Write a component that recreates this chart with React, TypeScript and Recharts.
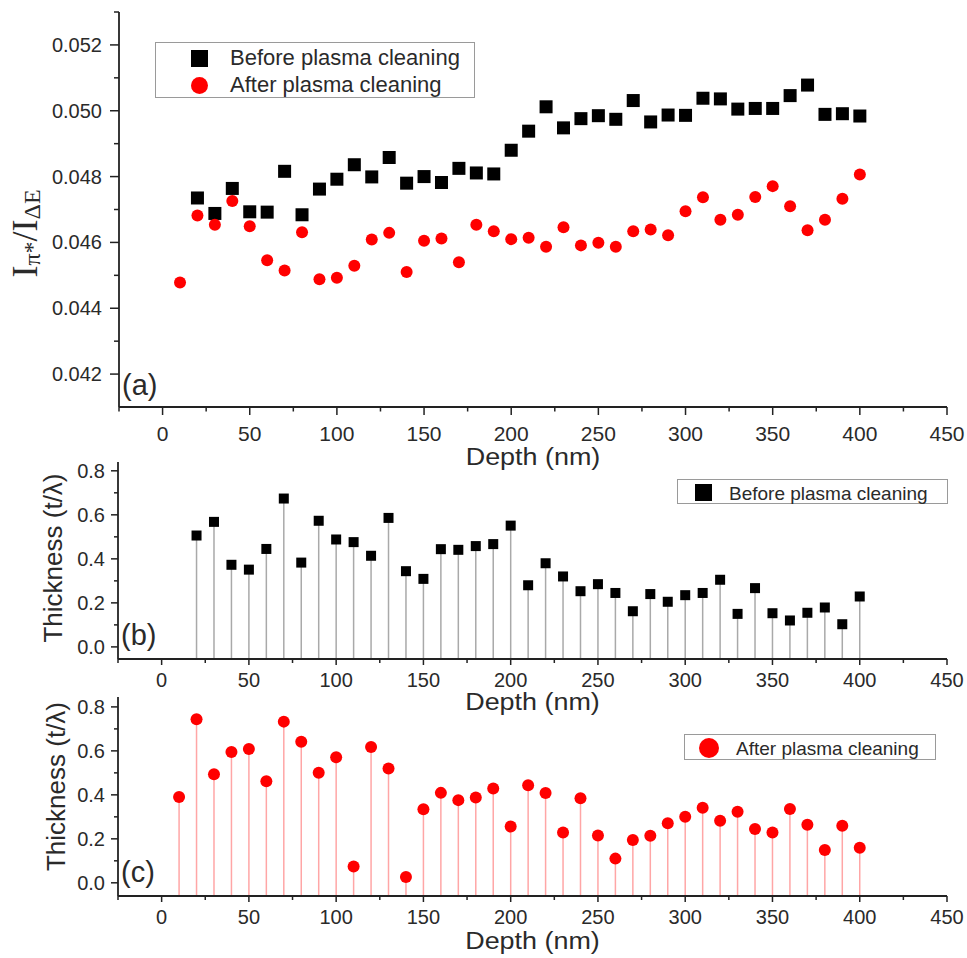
import React from 'react';
import { ScatterChart, Scatter, XAxis, YAxis, Legend, ErrorBar } from 'recharts';

// ---------- data ----------
const depthBefore = [20, 30, 40, 50, 60, 70, 80, 90, 100, 110, 120, 130, 140, 150, 160, 170, 180, 190, 200, 210, 220, 230, 240, 250, 260, 270, 280, 290, 300, 310, 320, 330, 340, 350, 360, 370, 380, 390, 400];
const depthAfter = [10, 20, 30, 40, 50, 60, 70, 80, 90, 100, 110, 120, 130, 140, 150, 160, 170, 180, 190, 200, 210, 220, 230, 240, 250, 260, 270, 280, 290, 300, 310, 320, 330, 340, 350, 360, 370, 380, 390, 400];

const ratioBefore = [0.04735, 0.04688, 0.04764, 0.04693, 0.04692, 0.04816, 0.04684, 0.04762, 0.04792, 0.04836, 0.04799, 0.04858, 0.0478, 0.048, 0.04782, 0.04825, 0.04811, 0.04808, 0.0488, 0.04938, 0.05012, 0.04948, 0.04976, 0.04985, 0.04974, 0.05031, 0.04966, 0.04987, 0.04986, 0.05038, 0.05036, 0.05005, 0.05007, 0.05007, 0.05046, 0.05078, 0.04989, 0.04991, 0.04984];
const ratioAfter = [0.04478, 0.04682, 0.04654, 0.04726, 0.04649, 0.04546, 0.04515, 0.04631, 0.04488, 0.04493, 0.04529, 0.04609, 0.04629, 0.0451, 0.04605, 0.04612, 0.0454, 0.04654, 0.04634, 0.0461, 0.04614, 0.04587, 0.04646, 0.04591, 0.04599, 0.04587, 0.04634, 0.04639, 0.04622, 0.04695, 0.04737, 0.04669, 0.04684, 0.04738, 0.04771, 0.0471, 0.04637, 0.04669, 0.04733, 0.04806];

const thicknessBefore = [0.506, 0.568, 0.373, 0.351, 0.445, 0.674, 0.383, 0.573, 0.488, 0.476, 0.414, 0.586, 0.344, 0.309, 0.444, 0.441, 0.458, 0.467, 0.551, 0.28, 0.38, 0.32, 0.253, 0.285, 0.245, 0.162, 0.24, 0.205, 0.235, 0.245, 0.305, 0.15, 0.267, 0.153, 0.12, 0.155, 0.179, 0.103, 0.229];
const thicknessAfter = [0.39, 0.744, 0.494, 0.595, 0.608, 0.462, 0.733, 0.642, 0.5, 0.571, 0.074, 0.618, 0.52, 0.026, 0.335, 0.409, 0.376, 0.388, 0.429, 0.256, 0.444, 0.408, 0.229, 0.385, 0.215, 0.11, 0.195, 0.214, 0.271, 0.3, 0.341, 0.282, 0.323, 0.245, 0.229, 0.336, 0.264, 0.149, 0.259, 0.159];

const depthTicks = [-25, 0, 25, 50, 75, 100, 125, 150, 175, 200, 225, 250, 275, 300, 325, 350, 375, 400, 425, 450];
const ratioTicks = [0.042, 0.043, 0.044, 0.045, 0.046, 0.047, 0.048, 0.049, 0.05, 0.051, 0.052, 0.053];
const thicknessTicks = [0, 0.1, 0.2, 0.3, 0.4, 0.5, 0.6, 0.7, 0.8];

const nameBefore = 'Before plasma cleaning';
const nameAfter = 'After plasma cleaning';
const depthTitle = 'Depth (nm)';
const thicknessTitle = 'Thickness (t/λ)';
const panelTags = ['(a)', '(b)', '(c)'];

// ---------- styling ----------
const SANS = '"Liberation Sans", Arial, sans-serif';
const SERIF = '"Liberation Serif", "Times New Roman", serif';
const AXIS = '#222';
const TEXT = '#2a2a2a';
const RED = '#ff0000';

const DEPTH_DOMAIN: [number, number] = [-25, 450];
const RATIO_DOMAIN: [number, number] = [0.041, 0.053];
const THICK_B_DOMAIN: [number, number] = [-0.055, 0.84];
const THICK_C_DOMAIN: [number, number] = [-0.06, 0.845];

const zip = (xs: number[], ys: number[], floor?: number) =>
  xs.map((x, i) => ({ x, y: ys[i], err: floor === undefined ? 0 : [ys[i] - floor, 0] }));

const makeXTick = (majorLen: number, minorLen: number, labelDy: number, fontSize: number) => (props: any) => {
  const { x, y, payload } = props;
  const v = payload.value;
  const isMajor = v % 50 === 0;
  return (
    <g>
      <line x1={x} x2={x} y1={y} y2={y + (isMajor ? majorLen : minorLen)} stroke={AXIS} strokeWidth={1.5} />
      {isMajor ? (
        <text x={x} y={y + labelDy} textAnchor="middle" dominantBaseline="central" fontFamily={SANS} fontSize={fontSize} fill={TEXT}>
          {v}
        </text>
      ) : null}
    </g>
  );
};

const makeYTick = (isMajor: (v: number) => boolean, fmt: (v: number) => string, majorLen: number, minorLen: number, gap: number, fontSize: number) => (props: any) => {
  const { x, y, payload } = props;
  const v = payload.value;
  const major = isMajor(v);
  return (
    <g>
      <line x1={x} x2={x - (major ? majorLen : minorLen)} y1={y} y2={y} stroke={AXIS} strokeWidth={1.5} />
      {major ? (
        <text x={x - gap} y={y} textAnchor="end" dominantBaseline="central" fontFamily={SANS} fontSize={fontSize} fill={TEXT}>
          {fmt(v)}
        </text>
      ) : null}
    </g>
  );
};

const squareShape = (size: number) => (p: any) => (
  <rect x={p.cx - size / 2} y={p.cy - size / 2} width={size} height={size} fill="#000" />
);
const circleShape = (d: number) => (p: any) => <circle cx={p.cx} cy={p.cy} r={d / 2} fill={RED} />;

const depthLabel = (dy: number) => (props: any) => {
  const vb = props.viewBox || {};
  const cx = vb.x + vb.width / 2;
  const cy = vb.y + dy;
  return (
    <text transform={`translate(${cx}, ${cy}) scale(1.17, 1)`} x={0} y={0} textAnchor="middle" dominantBaseline="central" fontFamily={SANS} fontSize={23} fill={TEXT}>
      {depthTitle}
    </text>
  );
};

const ratioYLabel = (props: any) => {
  const vb = props.viewBox || {};
  const bx = 37;
  const cy = vb.y + vb.height / 2 + 24;
  const right = vb.x + vb.width;
  return (
    <g>
      <text transform={`rotate(-90, ${bx}, ${cy})`} x={bx} y={cy} textAnchor="middle" fontFamily={SERIF} fontSize={36} fill={TEXT}>
        <tspan>I</tspan>
        <tspan fontSize={24} dy={3}>π*</tspan>
        <tspan dy={-3}>/I</tspan>
        <tspan fontSize={24} dy={3}>ΔE</tspan>
      </text>
      <text x={right + 3} y={vb.y + vb.height - 22} dominantBaseline="central" fontFamily={SANS} fontSize={29} fill={TEXT}>
        {panelTags[0]}
      </text>
    </g>
  );
};

const thicknessYLabel = (bx: number, centerShift: number, tag: string) => (props: any) => {
  const vb = props.viewBox || {};
  const cy = vb.y + vb.height / 2 + centerShift;
  const right = vb.x + vb.width;
  return (
    <g>
      <text transform={`rotate(-90, ${bx}, ${cy})`} x={bx} y={cy} textAnchor="middle" fontFamily={SANS} fontSize={26} fill={TEXT}>
        {thicknessTitle}
      </text>
      <text x={right + 3} y={vb.y + vb.height - 24} dominantBaseline="central" fontFamily={SANS} fontSize={29} fill={TEXT}>
        {tag}
      </text>
    </g>
  );
};

type Item = { name: string; kind: 'square' | 'circle'; size: number; cy: number };
const LegendBox = ({ w, h, items, markerX, textX, fontSize }: { w: number; h: number; items: Item[]; markerX: number; textX: number; fontSize: number }) => (
  <div style={{ boxSizing: 'border-box', width: w, height: h, border: '1.5px solid #9a9a9a', background: '#fff', position: 'relative', fontFamily: SANS }}>
    {items.map((it) => (
      <React.Fragment key={it.name}>
        <div
          style={{
            position: 'absolute',
            left: markerX - it.size / 2,
            top: it.cy - it.size / 2,
            width: it.size,
            height: it.size,
            background: it.kind === 'square' ? '#000' : RED,
            borderRadius: it.kind === 'circle' ? '50%' : 0,
          }}
        />
        <div style={{ position: 'absolute', left: textX, top: it.cy, transform: 'translateY(-50%)', fontSize, lineHeight: 1, whiteSpace: 'nowrap', color: TEXT }}>
          {it.name}
        </div>
      </React.Fragment>
    ))}
  </div>
);

const dataBeforeA = zip(depthBefore, ratioBefore);
const dataAfterA = zip(depthAfter, ratioAfter);
const dataB = zip(depthBefore, thicknessBefore, THICK_B_DOMAIN[0]);
const dataC = zip(depthAfter, thicknessAfter, THICK_C_DOMAIN[0]);

export default function App() {
  return (
    <div style={{ position: 'absolute', left: 0, top: 0, width: 967, height: 958, background: '#fff' }}>
      {/* Panel (a) */}
      <div style={{ position: 'absolute', left: 0, top: 0 }}>
        <ScatterChart width={967} height={480} margin={{ top: 12, right: 20, bottom: 13, left: 0 }}>
          <XAxis
            type="number"
            dataKey="x"
            domain={DEPTH_DOMAIN}
            allowDataOverflow
            ticks={depthTicks}
            interval={0}
            tickSize={0}
            tickMargin={0}
            height={60}
            axisLine={{ stroke: AXIS, strokeWidth: 1.8 }}
            tick={makeXTick(8, 4.5, 26, 21)}
            label={depthLabel(50)}
          />
          <YAxis
            type="number"
            dataKey="y"
            domain={RATIO_DOMAIN}
            allowDataOverflow
            ticks={ratioTicks}
            interval={0}
            tickSize={0}
            tickMargin={0}
            width={119}
            axisLine={{ stroke: AXIS, strokeWidth: 1.8 }}
            tick={makeYTick((v) => Math.round(v * 1000) % 2 === 0, (v) => v.toFixed(3), 9, 5, 17, 20)}
            label={ratioYLabel}
          />
          <Scatter name={nameBefore} data={dataBeforeA} isAnimationActive={false} shape={squareShape(13)} />
          <Scatter name={nameAfter} data={dataAfterA} isAnimationActive={false} shape={circleShape(12)} />
          <Legend
            layout="horizontal"
            verticalAlign="middle"
            align="center"
            wrapperStyle={{ left: 155, top: 42, width: 320, height: 56 }}
            content={() => (
              <LegendBox
                w={320}
                h={56}
                markerX={43}
                textX={74}
                fontSize={22}
                items={[
                  { name: nameBefore, kind: 'square', size: 17, cy: 15 },
                  { name: nameAfter, kind: 'circle', size: 17, cy: 42 },
                ]}
              />
            )}
          />
        </ScatterChart>
      </div>

      {/* Panel (b) */}
      <div style={{ position: 'absolute', left: 0, top: 440 }}>
        <ScatterChart width={967} height={280} margin={{ top: 22, right: 20, bottom: 6, left: 0 }}>
          <XAxis
            type="number"
            dataKey="x"
            domain={DEPTH_DOMAIN}
            allowDataOverflow
            ticks={depthTicks}
            interval={0}
            tickSize={0}
            tickMargin={0}
            height={55}
            axisLine={{ stroke: AXIS, strokeWidth: 1.8 }}
            tick={makeXTick(6, 4, 20.5, 20)}
            label={depthLabel(43)}
          />
          <YAxis
            type="number"
            dataKey="y"
            domain={THICK_B_DOMAIN}
            allowDataOverflow
            ticks={thicknessTicks}
            interval={0}
            tickSize={0}
            tickMargin={0}
            width={118}
            axisLine={{ stroke: AXIS, strokeWidth: 1.8 }}
            tick={makeYTick((v) => Math.round(v * 10) % 2 === 0, (v) => v.toFixed(1), 7, 4, 13, 20)}
            label={thicknessYLabel(62, -2.5, panelTags[1])}
          />
          <Scatter name={nameBefore} data={dataB} isAnimationActive={false} shape={squareShape(10)}>
            <ErrorBar dataKey="err" direction="y" width={0} stroke="#a9a9a9" strokeWidth={1.5} />
          </Scatter>
          <Legend
            layout="horizontal"
            verticalAlign="middle"
            align="center"
            wrapperStyle={{ left: 677, top: 39, width: 271, height: 25 }}
            content={() => (
              <LegendBox
                w={271}
                h={25}
                markerX={25}
                textX={51}
                fontSize={19}
                items={[{ name: nameBefore, kind: 'square', size: 17, cy: 12.5 }]}
              />
            )}
          />
        </ScatterChart>
      </div>

      {/* Panel (c) */}
      <div style={{ position: 'absolute', left: 0, top: 690 }}>
        <ScatterChart width={967} height={268} margin={{ top: 7, right: 20, bottom: 6, left: 0 }}>
          <XAxis
            type="number"
            dataKey="x"
            domain={DEPTH_DOMAIN}
            allowDataOverflow
            ticks={depthTicks}
            interval={0}
            tickSize={0}
            tickMargin={0}
            height={56}
            axisLine={{ stroke: AXIS, strokeWidth: 1.8 }}
            tick={makeXTick(6, 4, 21, 20)}
            label={depthLabel(45)}
          />
          <YAxis
            type="number"
            dataKey="y"
            domain={THICK_C_DOMAIN}
            allowDataOverflow
            ticks={thicknessTicks}
            interval={0}
            tickSize={0}
            tickMargin={0}
            width={118}
            axisLine={{ stroke: AXIS, strokeWidth: 1.8 }}
            tick={makeYTick((v) => Math.round(v * 10) % 2 === 0, (v) => v.toFixed(1), 7, 4, 13, 20)}
            label={thicknessYLabel(65, -10, panelTags[2])}
          />
          <Scatter name={nameAfter} data={dataC} isAnimationActive={false} shape={circleShape(12)}>
            <ErrorBar dataKey="err" direction="y" width={0} stroke="#ffa6a6" strokeWidth={1.5} />
          </Scatter>
          <Legend
            layout="horizontal"
            verticalAlign="middle"
            align="center"
            wrapperStyle={{ left: 684, top: 44, width: 252, height: 26 }}
            content={() => (
              <LegendBox
                w={252}
                h={26}
                markerX={24}
                textX={51}
                fontSize={19}
                items={[{ name: nameAfter, kind: 'circle', size: 20, cy: 13 }]}
              />
            )}
          />
        </ScatterChart>
      </div>
    </div>
  );
}
